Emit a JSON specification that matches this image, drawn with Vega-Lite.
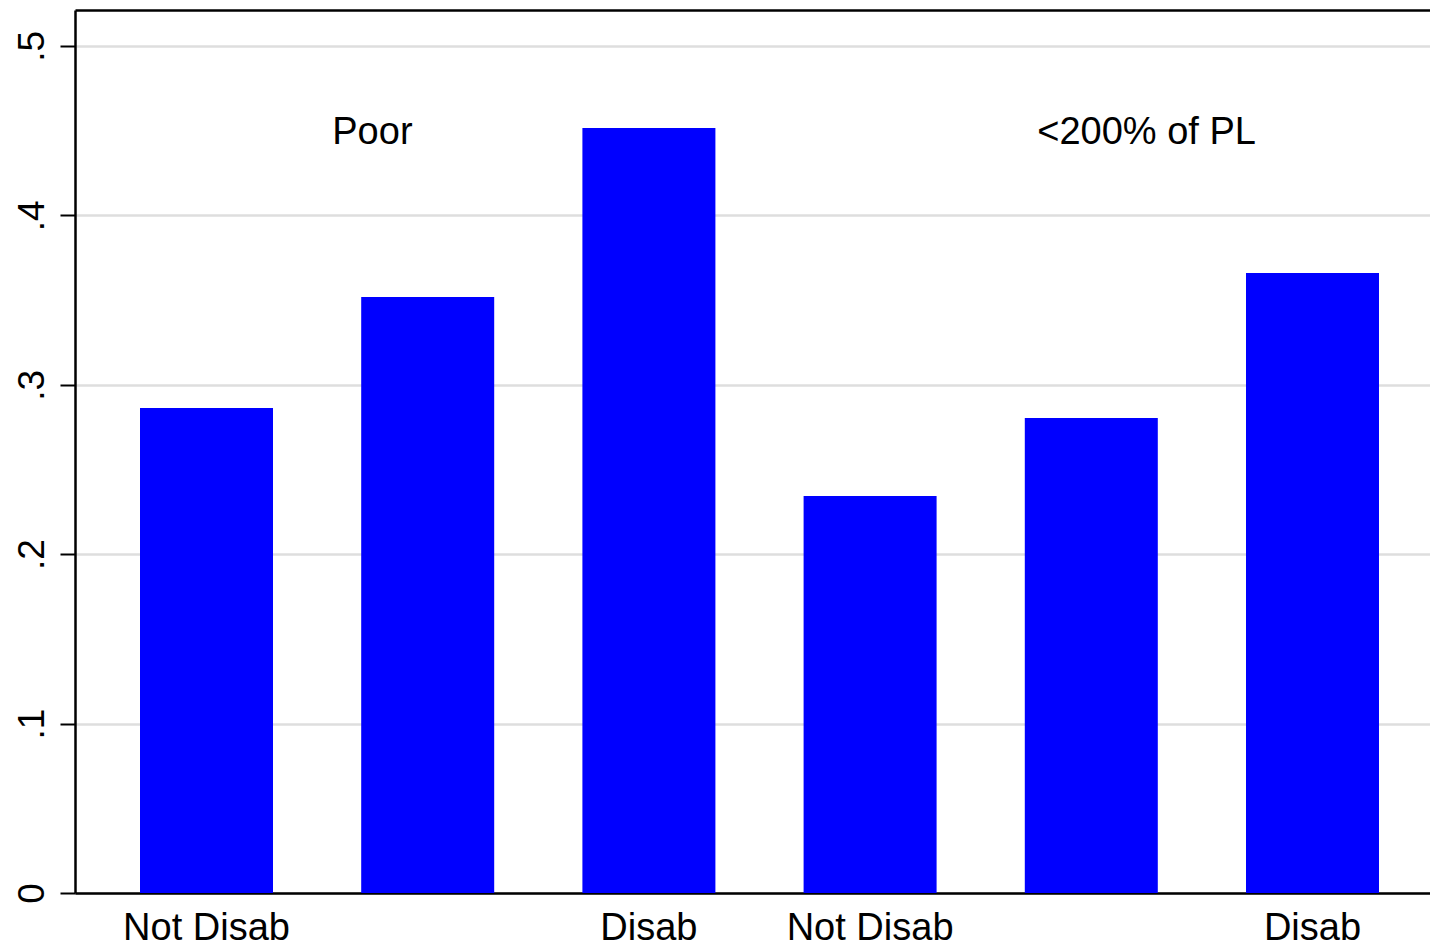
{
  "$schema": "https://vega.github.io/schema/vega-lite/v6.json",
  "autosize": "none",
  "width": 1355,
  "height": 883,
  "padding": {"left": 75, "top": 10, "right": 0, "bottom": 54},
  "background": "white",
  "config": {
    "font": "Liberation Sans",
    "view": {"stroke": null}
  },
  "datasets": {
    "bars": [
      {"pos": 1, "value": 0.2863, "label": "Not Disab"},
      {"pos": 2, "value": 0.3518, "label": ""},
      {"pos": 3, "value": 0.4516, "label": "Disab"},
      {"pos": 4, "value": 0.2344, "label": "Not Disab"},
      {"pos": 5, "value": 0.2804, "label": ""},
      {"pos": 6, "value": 0.366, "label": "Disab"}
    ],
    "notes": [
      {"pos": 1.75, "value": 0.442, "text": "Poor"},
      {"pos": 5.25, "value": 0.442, "text": "<200% of PL"}
    ]
  },
  "resolve": {"axis": {"x": "independent"}},
  "layer": [
    {
      "data": {"name": "bars"},
      "mark": {"type": "bar", "size": 133, "color": "#0000ff"},
      "encoding": {
        "x": {
          "field": "pos", "type": "quantitative",
          "scale": {"domain": [0.4055, 6.5312], "nice": false, "zero": false, "padding": 0},
          "axis": {"orient": "bottom", "title": null, "labels": false, "ticks": false, "grid": false,
                   "domain": true, "domainColor": "#000000", "domainWidth": 2.5}
        },
        "y": {
          "field": "value", "type": "quantitative",
          "scale": {"domain": [0, 0.5212], "nice": false},
          "axis": {
            "title": null,
            "values": [0, 0.1, 0.2, 0.3, 0.4, 0.5],
            "labelExpr": "datum.value == 0 ? '0' : replace(format(datum.value, '.1f'), '0.', '.')",
            "labelAngle": -90,
            "labelAlign": "center",
            "labelBaseline": "alphabetic",
            "labelPadding": 17,
            "labelFontSize": 37,
            "labelColor": "#000000",
            "labelFont": "Liberation Sans",
            "tickSize": 15,
            "tickWidth": 2,
            "tickColor": "#000000",
            "domainColor": "#000000",
            "domainWidth": 2.5,
            "grid": true,
            "gridColor": "#dedede",
            "gridWidth": 2.5
          }
        }
      }
    },
    {
      "data": {"name": "bars"},
      "mark": {"type": "text", "fontSize": 38, "font": "Liberation Sans", "color": "#000000",
               "baseline": "alphabetic", "align": "center", "dy": 47},
      "encoding": {
        "x": {"field": "pos", "type": "quantitative", "axis": null},
        "y": {"datum": 0, "type": "quantitative"},
        "text": {"field": "label"}
      }
    },
    {
      "data": {"name": "notes"},
      "mark": {"type": "text", "fontSize": 38, "font": "Liberation Sans", "color": "#000000",
               "baseline": "alphabetic", "align": "center"},
      "encoding": {
        "x": {
          "field": "pos", "type": "quantitative",
          "axis": {"orient": "top", "title": null, "labels": false, "ticks": false, "grid": false,
                   "domain": true, "domainColor": "#000000", "domainWidth": 2.5}
        },
        "y": {"field": "value", "type": "quantitative"},
        "text": {"field": "text"}
      }
    }
  ]
}
